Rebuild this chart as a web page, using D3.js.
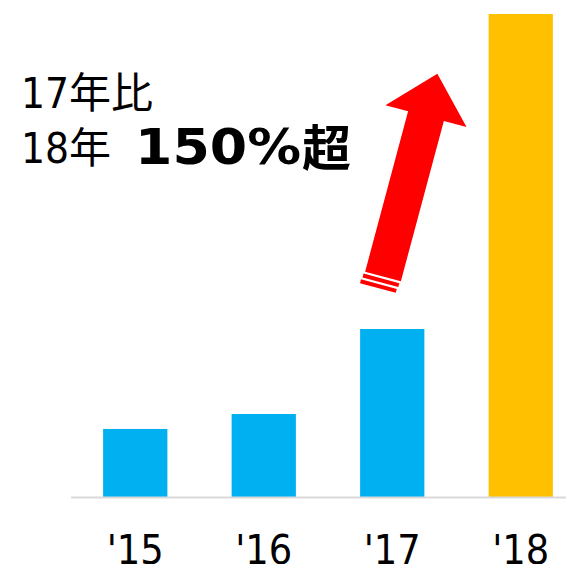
<!DOCTYPE html>
<html><head><meta charset="utf-8">
<script src="https://cdn.jsdelivr.net/npm/d3@7"></script>
<style>html,body{margin:0;padding:0;background:#fff;overflow:hidden}</style>
</head><body>
<script>
const categories = ["'15", "'16", "'17", "'18"];
const values = [40.5, 49.4, 100, 287.5];
const barColors = ["#00B0F0", "#00B0F0", "#00B0F0", "#FFC000"];
const line1 = "17年比";
const line2a = "18年";
const line2b = "150%";
const line2c = "超";

const W = 566, H = 564;
const svg = d3.select("body").append("svg").attr("width", W).attr("height", H);

const x = d3.scaleBand().domain(categories).range([71, 585]).paddingInner(0.5).paddingOuter(0.25);
const y = d3.scaleLinear().domain([0, 287.5]).range([497, 14]);

svg.append("g").selectAll("rect").data(categories).join("rect")
  .attr("x", d => x(d)).attr("width", x.bandwidth())
  .attr("y", (d, i) => y(values[i])).attr("height", (d, i) => y(0) - y(values[i]))
  .attr("fill", (d, i) => barColors[i]);

svg.append("line").attr("x1", 71).attr("x2", W).attr("y1", y(0) + 0.5).attr("y2", y(0) + 0.5)
  .attr("stroke", "#D9D9D9").attr("stroke-width", 2);

svg.append("g").selectAll("text").data(categories).join("text")
  .attr("x", d => x(d) + x.bandwidth() / 2).attr("y", 564)
  .attr("text-anchor", "middle")
  .attr("font-family", "'DejaVu Sans Condensed', 'DejaVu Sans', sans-serif")
  .attr("font-size", 41).attr("fill", "#000").text(d => d);

// annotation text
const fam = "'DejaVu Sans Condensed', 'Noto Sans CJK JP', sans-serif";
svg.append("text").attr("x", 21).attr("y", 108).attr("font-family", fam)
  .attr("font-size", 42).attr("fill", "#000").text(line1);
svg.append("text").attr("x", 21).attr("y", 163).attr("font-family", fam)
  .attr("font-size", 42).attr("fill", "#000").text(line2a);
svg.append("text").attr("x", 135).attr("y", 164)
  .attr("font-family", "'DejaVu Sans', sans-serif").attr("font-weight", "bold")
  .attr("font-size", 50).attr("fill", "#000")
  .attr("textLength", 166).attr("lengthAdjust", "spacingAndGlyphs").text(line2b);
svg.append("text").attr("x", 302).attr("y", 166)
  .attr("font-family", "'Noto Sans CJK JP', sans-serif").attr("font-weight", "bold")
  .attr("font-size", 49).attr("fill", "#000").text(line2c);

// arrow (local frame: origin at tail centre, pointing up)
const L = 210, headBase = 166, hw = 42, sw = 18.5;
const g = svg.append("g").attr("transform", "translate(383,276.5) rotate(15)");
g.append("path").attr("fill", "#FF0000")
  .attr("d", `M${-sw},0 L${-sw},${-headBase} L${-hw},${-headBase} L0,${-L} L${hw},${-headBase} L${sw},${-headBase} L${sw},0 Z`);
g.append("rect").attr("x", -sw - 1).attr("y", 2.2).attr("width", 2 * sw).attr("height", 4).attr("fill", "#FF0000");
g.append("rect").attr("x", -sw - 2).attr("y", 8.4).attr("width", 2 * sw).attr("height", 4).attr("fill", "#FF0000");
</script>
</body></html>
